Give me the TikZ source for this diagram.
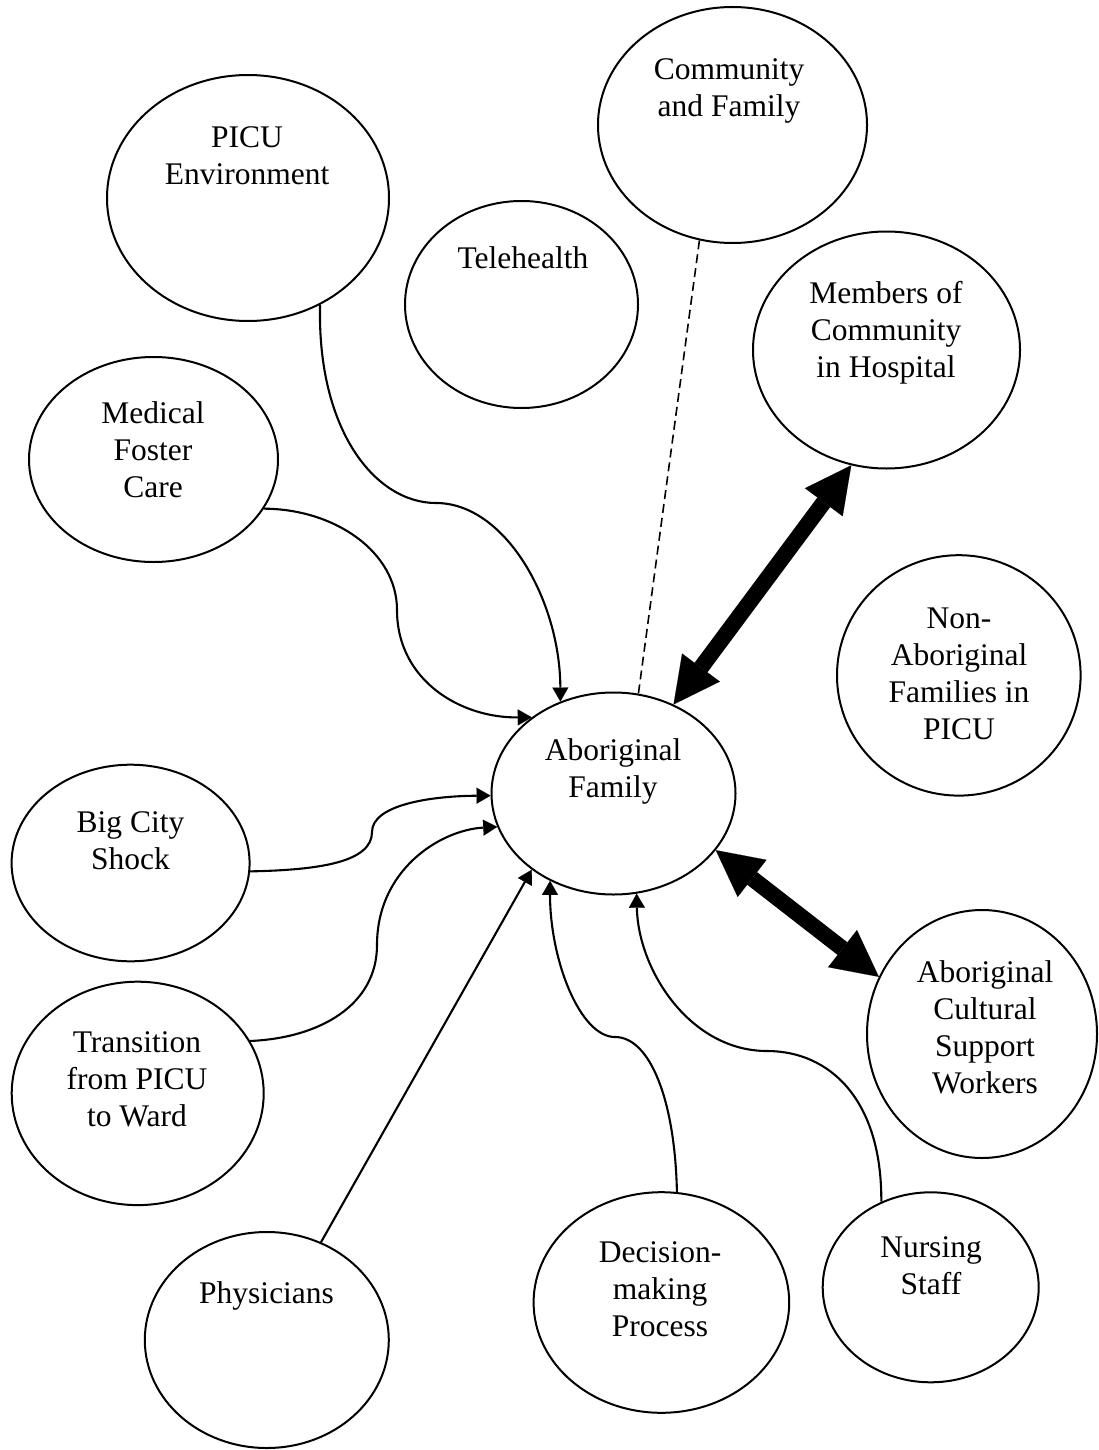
\documentclass[tikz,border=0pt]{standalone}
\usepackage{fontspec}
\setmainfont{Liberation Serif}
\usetikzlibrary{shapes.geometric,arrows.meta}
\newcommand\labfont{\fontsize{31.5}{37}\selectfont}
\begin{document}
\begin{tikzpicture}[x=1pt,y=-1pt,
  oval/.style={draw, ellipse, line width=2pt, inner sep=0pt},
  lab/.style={font=\labfont, align=center, inner sep=0pt},
  conn/.style={line width=2.1pt, -{Triangle[length=14pt,width=16pt,line width=0.1pt]}},
  boldlink/.style={line width=16pt,
    {Triangle[length=46pt,width=47pt,line width=0.1pt]}-{Triangle[length=46pt,width=47pt,line width=0.1pt]}},
  dashedlink/.style={line width=1.6pt, dash pattern=on 9pt off 5pt}
]
\useasboundingbox (0,0) rectangle (1099,1450);

% ellipses
\node[oval, minimum width=282pt, minimum height=246pt] (picu) at (248,198) {};
\node[oval, minimum width=233pt, minimum height=207pt] (tele) at (521.5,304.5) {};
\node[oval, minimum width=269pt, minimum height=236pt] (comm) at (732.5,125) {};
\node[oval, minimum width=267pt, minimum height=237pt] (memb) at (886.5,350) {};
\node[oval, minimum width=249pt, minimum height=205pt] (med) at (153.5,459.5) {};
\node[oval, minimum width=243.6pt, minimum height=240.4pt] (nonab) at (958.8,675.4) {};
\node[oval, minimum width=244pt, minimum height=202pt] (fam) at (613.5,793.5) {};
\node[oval, minimum width=238pt, minimum height=196.6pt] (big) at (130.6,863) {};
\node[oval, minimum width=252pt, minimum height=223.4pt] (trans) at (137.7,1093.4) {};
\node[oval, minimum width=230pt, minimum height=248pt] (cult) at (982,1034) {};
\node[oval, minimum width=244pt, minimum height=216pt] (phys) at (266.8,1340) {};
\node[oval, minimum width=255.6pt, minimum height=220.6pt] (dec) at (661.4,1302.5) {};
\node[oval, minimum width=216pt, minimum height=190pt] (nurs) at (930.7,1287.3) {};

% labels
\node[lab] (picuT) at (247,159) {\strut PICU\\\strut Environment};
\node[lab] (teleT) at (523,261) {\strut Telehealth};
\node[lab] (commT) at (729,90.5) {\strut Community\\\strut and Family};
\node[lab] (membT) at (886,333) {\strut Members of\\\strut Community\\\strut in Hospital};
\node[lab] (medT) at (153,453) {\strut Medical\\\strut Foster\\\strut Care};
\node[lab] (nonabT) at (959,676.5) {\strut Non-\\\strut Aboriginal\\\strut Families in\\\strut PICU};
\node[lab] (famT) at (613,771.5) {\strut Aboriginal\\\strut Family};
\node[lab] (bigT) at (130.5,844) {\strut Big City\\\strut Shock};
\node[lab] (transT) at (137,1082) {\strut Transition\\\strut from PICU\\\strut to Ward};
\node[lab] (cultT) at (985,1030.7) {\strut Aboriginal\\\strut Cultural\\\strut Support\\\strut Workers};
\node[lab] (physT) at (266.6,1296) {\strut Physicians};
\node[lab] (decT) at (660,1292) {\strut Decision-\\\strut making\\\strut Process};
\node[lab] (nursT) at (931,1268.6) {\strut Nursing\\\strut Staff};

% connectors
\draw[conn] (picu.-56.7) .. controls (317,430) and (375,503) .. (436,503)
  .. controls (505,503) and (560,600) .. (fam.120.3);
\draw[conn] (med.-24.3) .. controls (335,509) and (397,552) .. (397,610)
  .. controls (397,680) and (460,718) .. (fam.137.2);
\draw[conn] (big.-4) .. controls (320,870) and (372,862) .. (372,832)
  .. controls (372,805) and (430,796) .. (fam.181.2);
\draw[conn] (trans.25.6) .. controls (320,1038) and (377,1005) .. (377,945)
  .. controls (377,870) and (440,830) .. (fam.196);
\draw[conn] (phys.61.8) -- (fam.223.7);
\draw[conn] (dec.82.9) .. controls (675,1100) and (650,1037) .. (615,1037)
  .. controls (580,1037) and (550,960) .. (fam.234.3);
\draw[conn] (nurs.120.1) .. controls (882,1100) and (830,1051) .. (767,1051)
  .. controls (690,1051) and (638,970) .. (fam.283.4);

\draw[dashedlink] (comm.254.8) -- (fam.76.3);
\draw[boldlink] (fam.56) -- (memb.253.5);
\draw[boldlink] (fam.331.3) -- (cult.151.6);
\end{tikzpicture}
\end{document}
